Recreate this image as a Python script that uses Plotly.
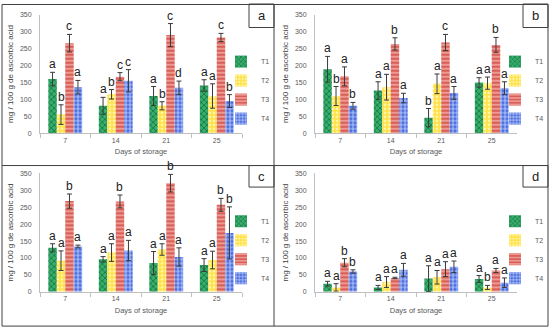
import plotly.graph_objects as go

# ---------------- data ----------------
days = ["7", "14", "21", "25"]
treatments = ["T1", "T2", "T3", "T4"]

# panel a
a_T1 = [160, 81, 110, 141]
a_T2 = [55, 115, 81, 110]
a_T3 = [266, 167, 290, 283]
a_T4 = [136, 155, 134, 95]
a_T1_err = [20, 25, 28, 17]
a_T2_err = [29, 14, 12, 36]
a_T3_err = [26, 12, 34, 12]
a_T4_err = [20, 33, 20, 19]
a_letters = [["a", "a", "a", "a"], ["b", "b", "b", "a"], ["c", "c", "c", "c"], ["a", "c", "d", "b"]]

# panel b
b_T1 = [189, 126, 46, 150]
b_T2 = [110, 136, 146, 148]
b_T3 = [168, 264, 268, 261]
b_T4 = [81, 104, 119, 133]
b_T1_err = [38, 26, 27, 14]
b_T2_err = [28, 38, 29, 18]
b_T3_err = [28, 18, 24, 22]
b_T4_err = [10, 14, 19, 19]
b_letters = [["a", "a", "b", "a"], ["b", "a", "a", "a"], ["a", "b", "c", "b"], ["b", "a", "a", "a"]]

# panel c
c_T1 = [130, 96, 85, 79]
c_T2 = [92, 116, 125, 94]
c_T3 = [268, 267, 321, 257]
c_T4 = [134, 122, 103, 174]
c_T1_err = [12, 8, 34, 19]
c_T2_err = [29, 26, 17, 26]
c_T3_err = [21, 19, 26, 19]
c_T4_err = [4, 30, 27, 77]
c_letters = [["a", "a", "a", "a"], ["a", "a", "a", "a"], ["b", "b", "b", "b"], ["a", "a", "a", "b"]]

# panel d
d_T1 = [24, 13, 39, 38]
d_T2 = [13, 29, 43, 13]
d_T3 = [86, 41, 67, 63]
d_T4 = [60, 65, 74, 27]
d_T1_err = [7, 6, 38, 10]
d_T2_err = [11, 16, 20, 6]
d_T3_err = [12, 2, 22, 6]
d_T4_err = [5, 19, 17, 14]
d_letters = [["a", "a", "a", "a"], ["a", "a", "a", "b"], ["b", "a", "a", "a"], ["b", "a", "a", "a"]]

panel_names = ["a", "b", "c", "d"]
y_title = "mg / 100 g de ascorbic acid"
x_title = "Days of storage"

# ---------------- styles ----------------
W, H = 550, 333
bg_colors = ["#34b06c", "#ffe24a", "#d95e57", "#4a6ee0"]
fg_colors = ["#1c6b3e", "#fff6b0", "#f4b3ab", "#d0dcff"]
shapes_pat = ["x", ".", "-", "+"]
err_color = "#3a3a3a"

panels = [
    dict(vals=[a_T1, a_T2, a_T3, a_T4], errs=[a_T1_err, a_T2_err, a_T3_err, a_T4_err], letters=a_letters),
    dict(vals=[b_T1, b_T2, b_T3, b_T4], errs=[b_T1_err, b_T2_err, b_T3_err, b_T4_err], letters=b_letters),
    dict(vals=[c_T1, c_T2, c_T3, c_T4], errs=[c_T1_err, c_T2_err, c_T3_err, c_T4_err], letters=c_letters),
    dict(vals=[d_T1, d_T2, d_T3, d_T4], errs=[d_T1_err, d_T2_err, d_T3_err, d_T4_err], letters=d_letters),
]

# pixel layout (left, right, y0 px, y350 px)
xdom_px = [(40, 242), (315, 517), (40, 242), (315, 517)]
ydom_px = [(132, 11), (132, 11), (294, 173), (294, 173)]
legend_pos = [(221, 44), (495, 44), (221, 207), (495, 207)]
boxes = [(249, 0, 274, 24), (523, 0, 548, 24), (249, 165, 274, 187), (523, 165, 548, 187)]

bargap = 0.33

fig = go.Figure()
annotations = []
layout_axes = {}

for p, panel in enumerate(panels):
    sfx = "" if p == 0 else str(p + 1)
    xa, ya = "x" + sfx, "y" + sfx
    leg = "legend" + sfx
    for i, t in enumerate(treatments):
        fig.add_trace(go.Bar(
            x=days, y=panel["vals"][i], name=t,
            xaxis=xa, yaxis=ya, legend=leg, offsetgroup=str(i),
            marker=dict(
                color=bg_colors[i],
                line=dict(width=0),
                pattern=dict(shape=shapes_pat[i], fgcolor=fg_colors[i], bgcolor=bg_colors[i],
                             size=4, solidity=0.35, fillmode="replace"),
            ),
            error_y=dict(type="data", array=panel["errs"][i], visible=True,
                         color=err_color, thickness=1, width=2.5),
        ))
    # axes
    x0, x1 = xdom_px[p]
    yb, yt = ydom_px[p]
    layout_axes["xaxis" + sfx] = dict(
        domain=[x0 / W, x1 / W], anchor=ya, type="category",
        categoryorder="array", categoryarray=days,
        range=[-0.5, len(days) - 0.5], autorange=False,
        showline=True, linecolor="#bfbfbf", linewidth=1,
        ticks="outside", tickson="boundaries", ticklen=4, tickcolor="#bfbfbf",
        tickfont=dict(size=7, color="#595959", family="Liberation Sans"),
        showgrid=False, zeroline=False,
        title=dict(text=x_title, font=dict(size=7.5, color="#595959", family="Liberation Sans"), standoff=6),
    )
    layout_axes["yaxis" + sfx] = dict(
        domain=[(H - yb) / H, (H - yt) / H], anchor=xa,
        range=[0, 350], autorange=False, dtick=50, tick0=0,
        showline=True, linecolor="#bfbfbf", linewidth=1,
        ticks="", ticklabelstandoff=6,
        tickfont=dict(size=7, color="#595959", family="Liberation Sans"),
        showgrid=False, zeroline=False,
        title=dict(text=y_title, font=dict(size=8, color="#404040", family="Liberation Sans"), standoff=5),
    )
    # legend
    lx, ly = legend_pos[p]
    layout_axes[leg] = dict(
        x=lx / W, y=(H - ly) / H, xanchor="left", yanchor="top",
        bgcolor="rgba(0,0,0,0)", font=dict(size=7, color="#595959", family="Liberation Sans"),
        tracegroupgap=0, itemwidth=30,
    )
    # significance letters (category index positions)
    cat_w = (x1 - x0) / len(days)
    bar_w = cat_w * (1 - bargap) / len(treatments)
    for i in range(len(treatments)):
        shift = (i - 1.5) * bar_w
        for j in range(len(days)):
            annotations.append(dict(
                x=j, y=panel["vals"][i][j] + panel["errs"][i][j], xref=xa, yref=ya,
                text=panel["letters"][i][j], showarrow=False, yanchor="bottom",
                xshift=shift, yshift=-1,
                font=dict(size=12, color="#222222", family="Liberation Sans"),
            ))
    # panel label box
    bx0, by0, bx1, by1 = boxes[p]
    annotations.append(dict(
        x=(bx0 + bx1) / 2 / W, y=(H - (by0 + by1) / 2) / H, xref="paper", yref="paper",
        text=panel_names[p], showarrow=False, xanchor="center", yanchor="middle",
        font=dict(size=13, color="#222222", family="Liberation Sans"),
    ))

shapes = []
for (bx0, by0, bx1, by1) in boxes:
    shapes.append(dict(type="rect", xref="paper", yref="paper",
                       x0=bx0 / W, x1=bx1 / W, y0=(H - by1) / H, y1=(H - by0) / H,
                       line=dict(color="#404040", width=1)))
# panel borders
shapes.append(dict(type="rect", xref="paper", yref="paper",
                   x0=2 / W, x1=548 / W, y0=(H - 329) / H, y1=(H - 0.5) / H,
                   line=dict(color="#404040", width=1)))
shapes.append(dict(type="line", xref="paper", yref="paper",
                   x0=274 / W, x1=274 / W, y0=(H - 329) / H, y1=(H - 0.5) / H,
                   line=dict(color="#404040", width=1)))
shapes.append(dict(type="line", xref="paper", yref="paper",
                   x0=2 / W, x1=548 / W, y0=(H - 165) / H, y1=(H - 165) / H,
                   line=dict(color="#404040", width=1)))

fig.update_layout(
    width=W, height=H,
    margin=dict(l=0, r=0, t=0, b=0),
    paper_bgcolor="white", plot_bgcolor="white",
    barmode="group", bargap=bargap, bargroupgap=0,
    font=dict(family="Liberation Sans"),
    annotations=annotations, shapes=shapes,
    **layout_axes,
)

fig.write_html("out.html", config={"displayModeBar": False},
               post_script="document.body.style.margin='0';document.body.style.overflow='hidden';")
